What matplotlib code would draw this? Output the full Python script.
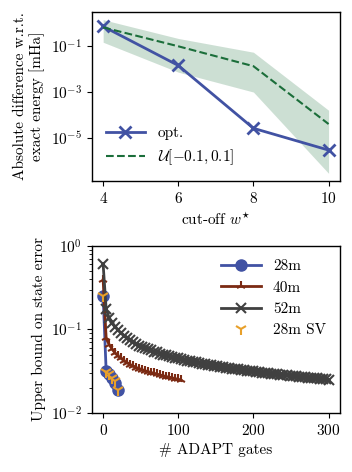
import numpy as np
import matplotlib
matplotlib.use("Agg")
import matplotlib.pyplot as plt

plt.rcParams.update({
    "font.family": "serif",
    "font.serif": ["cmr10", "DejaVu Serif"],
    "mathtext.fontset": "cm",
    "axes.unicode_minus": False,
    "axes.formatter.use_mathtext": True,
    "font.size": 11,
    "axes.linewidth": 1.0,
})

# top panel: energy error vs cut-off
cutoff = [4, 6, 8, 10]
err_opt = [0.74, 0.0145, 2.6e-5, 2.9e-6]
err_unif = [0.67, 0.10, 0.0135, 4.0e-5]
unif_hi = [1.45, 0.22, 0.055, 1.6e-4]
unif_lo = [0.15, 7.4e-3, 1.0e-3, 2.8e-7]

# bottom panel: state error bound vs number of ADAPT gates
err_28m = [0.25, 0.032, 0.029, 0.026, 0.023, 0.019]
err_28m_sv = [0.25, 0.031, 0.029, 0.026, 0.024, 0.019]
err_40m = [0.39, 0.078, 0.066, 0.058, 0.052, 0.048, 0.045, 0.042, 0.040,
           0.038, 0.0365, 0.035, 0.034, 0.033, 0.032, 0.0312, 0.0305,
           0.0298, 0.0291, 0.0285, 0.0279, 0.0273, 0.0268, 0.0263, 0.0258,
           0.0253, 0.0245]
err_52m = [0.60, 0.175, 0.138, 0.121, 0.108, 0.098, 0.090, 0.084, 0.079,
           0.074, 0.070, 0.067, 0.064, 0.062, 0.060, 0.058, 0.056, 0.054,
           0.053, 0.051, 0.050, 0.049, 0.048, 0.047, 0.046, 0.045, 0.044,
           0.043, 0.0425, 0.0418, 0.041, 0.0403, 0.0396, 0.039, 0.0384,
           0.0378, 0.0372, 0.0367, 0.0362, 0.0357, 0.0352, 0.0348, 0.0344,
           0.034, 0.0336, 0.0332, 0.0328, 0.0324, 0.0321, 0.0318, 0.0315,
           0.0311, 0.0308, 0.0305, 0.0302, 0.0299, 0.0296, 0.0293, 0.029,
           0.0288, 0.0285, 0.0282, 0.028, 0.0277, 0.0275, 0.0272, 0.027,
           0.0268, 0.0265, 0.0263, 0.0261, 0.0259, 0.0257, 0.0255, 0.0253,
           0.0251]
gates_28m = np.arange(0, 4 * len(err_28m), 4)
gates_40m = np.arange(0, 4 * len(err_40m), 4)
gates_52m = np.arange(0, 4 * len(err_52m), 4)

blue = "#4152a3"
green = "#1b6e3a"

fig = plt.figure(figsize=(3.52, 4.72), dpi=100)
ax1 = fig.add_axes([0.261, 0.6165, 0.7045, 0.358])
ax2 = fig.add_axes([0.261, 0.125, 0.7045, 0.354])

ax1.fill_between(cutoff, unif_lo, unif_hi, color=green, alpha=0.22, lw=0)
ax1.plot(cutoff, err_opt, color=blue, lw=2, marker="x", ms=9, mew=2,
         label="opt.")
ax1.plot(cutoff, err_unif, color=green, lw=1.5, ls="--",
         label=r"$\mathcal{U}[-0.1, 0.1]$")
ax1.set_yscale("log")
ax1.set_xticks(cutoff)
ax1.set_xlabel(r"cut-off $w^{\star}$")
ax1.set_ylabel("Absolute difference w.r.t.\nexact energy [mHa]")
ax1.legend(loc="lower left", frameon=False, handlelength=2.6)

ax2.plot(gates_28m, err_28m, color=blue, lw=2, marker="o", ms=8,
         label="28m")
ax2.plot(gates_40m, err_40m, color="#7b2a13", lw=2, marker="2", ms=7,
         mew=1.5, label="40m")
ax2.plot(gates_52m, err_52m, color="#404040", lw=2, marker="x", ms=7,
         mew=1.5, label="52m")
ax2.plot(gates_28m, err_28m_sv, ls="none", color="#e8a02a", marker="1",
         ms=9, mew=1.5, label="28m SV")
ax2.set_yscale("log")
ax2.set_ylim(1e-2, 1)
ax2.set_xticks([0, 100, 200, 300])
ax2.set_xlabel("# ADAPT gates")
ax2.set_ylabel("Upper bound on state error")
ax2.legend(loc="upper right", frameon=False, handlelength=2.6)

for ax in (ax1, ax2):
    ax.tick_params(which="both", direction="out")

fig.savefig("out.png", dpi=100)
